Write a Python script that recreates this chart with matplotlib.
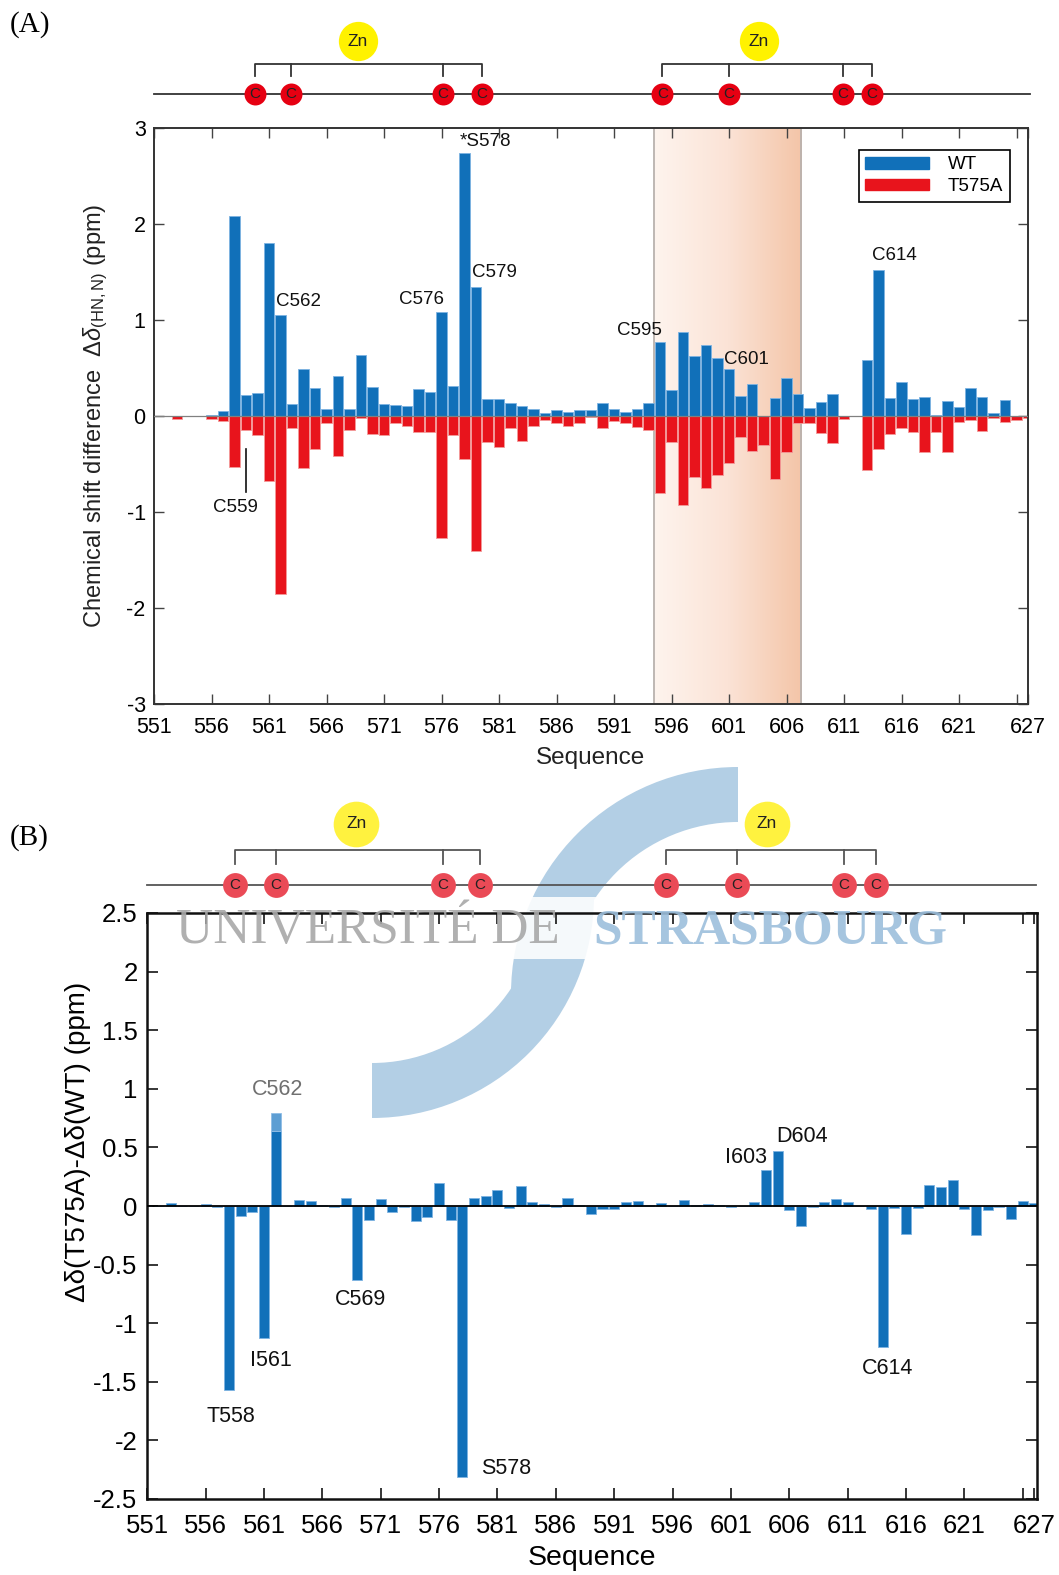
import numpy as np
import matplotlib
matplotlib.use("Agg")
import matplotlib.pyplot as plt
from matplotlib.colors import LinearSegmentedColormap
from matplotlib.patches import Patch, Wedge, Rectangle
from matplotlib.transforms import blended_transform_factory

plt.rcParams["font.family"] = ["Liberation Sans", "DejaVu Sans"]
plt.rcParams["axes.unicode_minus"] = False
plt.rcParams["mathtext.fontset"] = "custom"
plt.rcParams["mathtext.rm"] = "Liberation Sans"
plt.rcParams["mathtext.it"] = "Liberation Sans:italic"

# residue numbers 551..627
residues = np.arange(551, 628)

# panel A: chemical shift differences (ppm)
wt = [0, 0, 0, 0, 0, 0.01, 0.05, 2.08, 0.215, 0.24,
      1.80, 1.05, 0.12, 0.49, 0.29, 0.07, 0.42, 0.07, 0.64, 0.30,
      0.13, 0.11, 0.10, 0.28, 0.25, 1.08, 0.31, 2.74, 1.34, 0.18,
      0.18, 0.14, 0.10, 0.076, 0.03, 0.066, 0.04, 0.06, 0.066, 0.14,
      0.07, 0.04, 0.076, 0.14, 0.77, 0.27, 0.88, 0.63, 0.74, 0.60,
      0.49, 0.21, 0.33, 0, 0.19, 0.40, 0.23, 0.08, 0.15, 0.23,
      0, 0, 0.58, 1.52, 0.19, 0.35, 0.18, 0.20, 0.01, 0.16,
      0.09, 0.29, 0.20, 0.03, 0.17, 0, 0]
t575a = [0, 0, -0.035, 0, 0, -0.03, -0.05, -0.53, -0.146, -0.20,
         -0.68, -1.85, -0.13, -0.545, -0.34, -0.076, -0.42, -0.146, -0.024, -0.19,
         -0.20, -0.076, -0.10, -0.17, -0.17, -1.27, -0.20, -0.45, -1.41, -0.27,
         -0.32, -0.13, -0.26, -0.10, -0.04, -0.07, -0.10, -0.07, -0.01, -0.13,
         -0.05, -0.07, -0.11, -0.15, -0.80, -0.27, -0.93, -0.64, -0.75, -0.61,
         -0.49, -0.215, -0.36, -0.30, -0.66, -0.37, -0.076, -0.076, -0.18, -0.28,
         -0.03, 0, -0.56, -0.34, -0.19, -0.12, -0.17, -0.38, -0.17, -0.38,
         -0.06, -0.04, -0.16, -0.02, -0.06, -0.04, -0.02]

# panel B: delta(T575A) - delta(WT) (ppm)
diff = [0, 0, 0.028, 0, 0, 0.017, -0.005, -1.57, -0.085, -0.054,
        -1.13, 0.64, 0, 0.051, 0.043, 0.005, -0.005, 0.071, -0.63, -0.12,
        0.06, -0.05, -0.01, -0.125, -0.097, 0.20, -0.12, -2.31, 0.071, 0.085,
        0.14, -0.015, 0.168, 0.034, 0.02, -0.005, 0.065, 0.01, -0.065, -0.023,
        -0.023, 0.034, 0.045, 0.01, 0.028, 0.003, 0.054, 0.005, 0.02, 0.005,
        -0.01, -0.003, 0.034, 0.307, 0.47, -0.037, -0.17, -0.005, 0.034, 0.057,
        0.034, 0, -0.028, -1.20, -0.014, -0.24, -0.014, 0.176, 0.16, 0.225,
        -0.028, -0.25, -0.037, -0.005, -0.108, 0.043, 0.023]
c562_faded_top = 0.79

xtick_pos = list(range(551, 627, 5)) + [627]
xtick_lab = [str(v) for v in range(551, 622, 5)] + ["", "627"]

labels_a = [("*S578", 579.8, 2.86), ("C562", 563.6, 1.19), ("C576", 574.3, 1.21),
            ("C579", 580.6, 1.49), ("C595", 593.2, 0.89), ("C601", 602.5, 0.59),
            ("C614", 615.4, 1.67), ("C559", 558.1, -0.95)]
labels_b = [("T558", 558.2, -1.80), ("I561", 561.6, -1.32), ("C569", 569.3, -0.80),
            ("S578", 581.7, -2.24), ("I603", 602.3, 0.41), ("D604", 607.1, 0.59),
            ("C614", 614.4, -1.39)]

# zinc finger sketch: cysteine / zinc positions in residue units
cys_a = [[559.8, 562.9, 576.1, 579.5], [595.2, 601.0, 610.9, 613.4]]
zn_a = [568.7, 603.6]
cys_b = [[558.5, 562.0, 576.3, 579.5], [595.4, 601.5, 610.7, 613.4]]
zn_b = [568.9, 604.1]

blue = "#1170b9"
red = "#e8141c"

W, H = 1059, 1575
fig = plt.figure(figsize=(W / 100, H / 100), dpi=100)

# background overlay (watermark arc)
back = fig.add_axes([0, 0, 1, 1])
back.set_xlim(0, W)
back.set_ylim(H, 0)
back.axis("off")
back.add_patch(Wedge((738, 994), 227, 180, 270, width=55, color="#b3cfe5", lw=0))
back.add_patch(Wedge((372, 896), 222, 0, 90, width=55, color="#b3cfe5", lw=0))
back.add_patch(Rectangle((140, 897), 905, 62, color="white", alpha=0.88, lw=0))


def zinc_sketch(ax, cys, zn, y_line, y_top, y_tick, y_zn, cs, zs, ccol, zcol, lcol, x_end):
    tr = blended_transform_factory(ax.transData, ax.transAxes)
    ax.plot([551, x_end], [y_line, y_line], color=lcol, lw=1.3, transform=tr, clip_on=False, zorder=4)
    for grp in cys:
        ax.plot([grp[0], grp[0], grp[-1], grp[-1]], [y_tick, y_top, y_top, y_tick],
                color=lcol, lw=1.3, transform=tr, clip_on=False)
        for xc in grp[1:-1]:
            ax.plot([xc, xc], [y_top, y_tick], color=lcol, lw=1.3, transform=tr, clip_on=False)
        ax.scatter(grp, [y_line] * len(grp), s=cs, c=ccol, transform=tr, clip_on=False, zorder=5, lw=0)
        for xc in grp:
            ax.text(xc, y_line, "C", ha="center", va="center", fontsize=11, color="#222222",
                    transform=tr, clip_on=False, zorder=6)
    ax.scatter(zn, [y_zn] * len(zn), s=zs, c=zcol, transform=tr, clip_on=False, zorder=5, lw=0)
    for xz in zn:
        ax.text(xz, y_zn, "Zn", ha="center", va="center", fontsize=12.5, color="#222222",
                transform=tr, clip_on=False, zorder=6)


# ---------- panel A ----------
axa = fig.add_axes([154 / W, 1 - 704 / H, 874 / W, 576 / H])
axa.set_facecolor("none")
grad = np.linspace(0, 1, 256).reshape(1, -1)
cmap = LinearSegmentedColormap.from_list("peach", ["#fef4ee", "#fbe3d6", "#f4c5a8"])
axa.imshow(grad, cmap=cmap, extent=[594.45, 607.3, -3, 3], aspect="auto", zorder=0)
axa.axvline(594.45, color="#b9b2ae", lw=1.3, zorder=1)
axa.axvline(607.3, color="#b9b2ae", lw=1.3, zorder=1)
axa.bar(residues, wt, width=0.87, color=blue, edgecolor="#7db3e2", lw=0.6, zorder=2)
axa.bar(residues, t575a, width=0.87, color=red, edgecolor="#f39a9a", lw=0.6, zorder=2)
axa.axhline(0, color="#808080", lw=0.9, zorder=3)
axa.set_xlim(551, 627)
axa.set_ylim(-3, 3)
axa.set_yticks(range(-3, 4))
axa.set_xticks(xtick_pos)
axa.set_xticklabels(xtick_lab)
axa.tick_params(direction="in", top=True, right=True, length=7, width=1, labelsize=15.5, pad=6,
                color="#444444")
axa.tick_params(axis="x", pad=9)
for sp in axa.spines.values():
    sp.set_color("#333333")
    sp.set_linewidth(1.4)
axa.set_xlabel("Sequence", fontsize=17.5, color="#222222", labelpad=7)
axa.set_ylabel(r"Chemical shift difference  $\Delta\delta_{\rm (HN,N)}$ (ppm)", fontsize=17,
               color="#222222")
axa.yaxis.set_label_coords(-0.05, 0.5)
for txt, xl, yl in labels_a:
    axa.text(xl, yl, txt, ha="center", va="center", fontsize=13.5, color="#111111", zorder=5)
axa.plot([559, 559], [-0.34, -0.79], color="#111111", lw=1.2, zorder=5)
leg = axa.legend(handles=[Patch(color=blue, label="WT"), Patch(color=red, label="T575A")],
                 loc="upper right", bbox_to_anchor=(0.979, 0.962), fontsize=13.5,
                 handlelength=3.4, handleheight=0.6, fancybox=False, framealpha=1,
                 edgecolor="black", borderaxespad=0, borderpad=0.35, labelspacing=0.25,
                 handletextpad=1.0)
leg.get_frame().set_linewidth(1.2)
zinc_sketch(axa, cys_a, zn_a, 1.059, 1.111, 1.090, 1.151, 250, 800, "#e60012", "#fff200",
            "#333333", 627.2)
fig.text(10 / W, 1 - 25 / H, "(A)", fontsize=21, family="Liberation Serif", va="center")

# ---------- panel B ----------
axb = fig.add_axes([147.3 / W, 1 - 1499 / H, 889.4 / W, 586 / H])
axb.set_facecolor("none")
axb.bar(residues, diff, width=0.86, color=blue, edgecolor="#7db3e2", lw=0.6, zorder=2)
axb.bar(562, c562_faded_top - diff[562 - 551], bottom=diff[562 - 551], width=0.86,
        color="#5d9ed3", edgecolor="#8fbde6", lw=0.6, zorder=2)
axb.axhline(0, color="black", lw=1.3, zorder=3)
axb.set_xlim(551, 627.2)
axb.set_ylim(-2.5, 2.5)
yt = np.arange(-2.5, 2.51, 0.5)
axb.set_yticks(yt)
axb.set_yticklabels(["%g" % v for v in yt])
axb.set_xticks(xtick_pos)
axb.set_xticklabels(xtick_lab)
axb.tick_params(direction="in", top=True, right=True, length=8, width=1.1, labelsize=18.5, pad=7)
axb.tick_params(axis="x", pad=11)
for sp in axb.spines.values():
    sp.set_color("#111111")
    sp.set_linewidth(1.8)
axb.set_xlabel("Sequence", fontsize=20.5, labelpad=5)
axb.set_ylabel("\u0394\u03b4(T575A)-\u0394\u03b4(WT) (ppm)", fontsize=20)
axb.yaxis.set_label_coords(-0.063, 0.61)
for txt, xl, yl in labels_b:
    axb.text(xl, yl, txt, ha="center", va="center", fontsize=15.5, color="#111111", zorder=5)
axb.text(562.2, 0.99, "C562", ha="center", va="center", fontsize=15.5, color="#707070", zorder=5)
zinc_sketch(axb, cys_b, zn_b, 1.048, 1.108, 1.083, 1.152, 320, 1080, "#ea4a56", "#fff23f",
            "#555555", 627.1)
fig.text(10 / W, 1 - 838 / H, "(B)", fontsize=21, family="Liberation Serif", va="center")

# front overlay (watermark text)
front = fig.add_axes([0, 0, 1, 1], zorder=10)
front.set_facecolor("none")
front.set_xlim(0, W)
front.set_ylim(H, 0)
front.axis("off")
front.text(176, 943, "UNIVERSITÉ DE", fontsize=37, family="Liberation Serif",
           color="#a8a8a8", alpha=0.9, va="baseline", ha="left")
front.text(593, 943, "STRASBOURG", fontsize=37, family="Liberation Serif", fontweight="bold",
           color="#9dbfdc", alpha=0.9, va="baseline", ha="left")

fig.savefig("out.png", dpi=100)
